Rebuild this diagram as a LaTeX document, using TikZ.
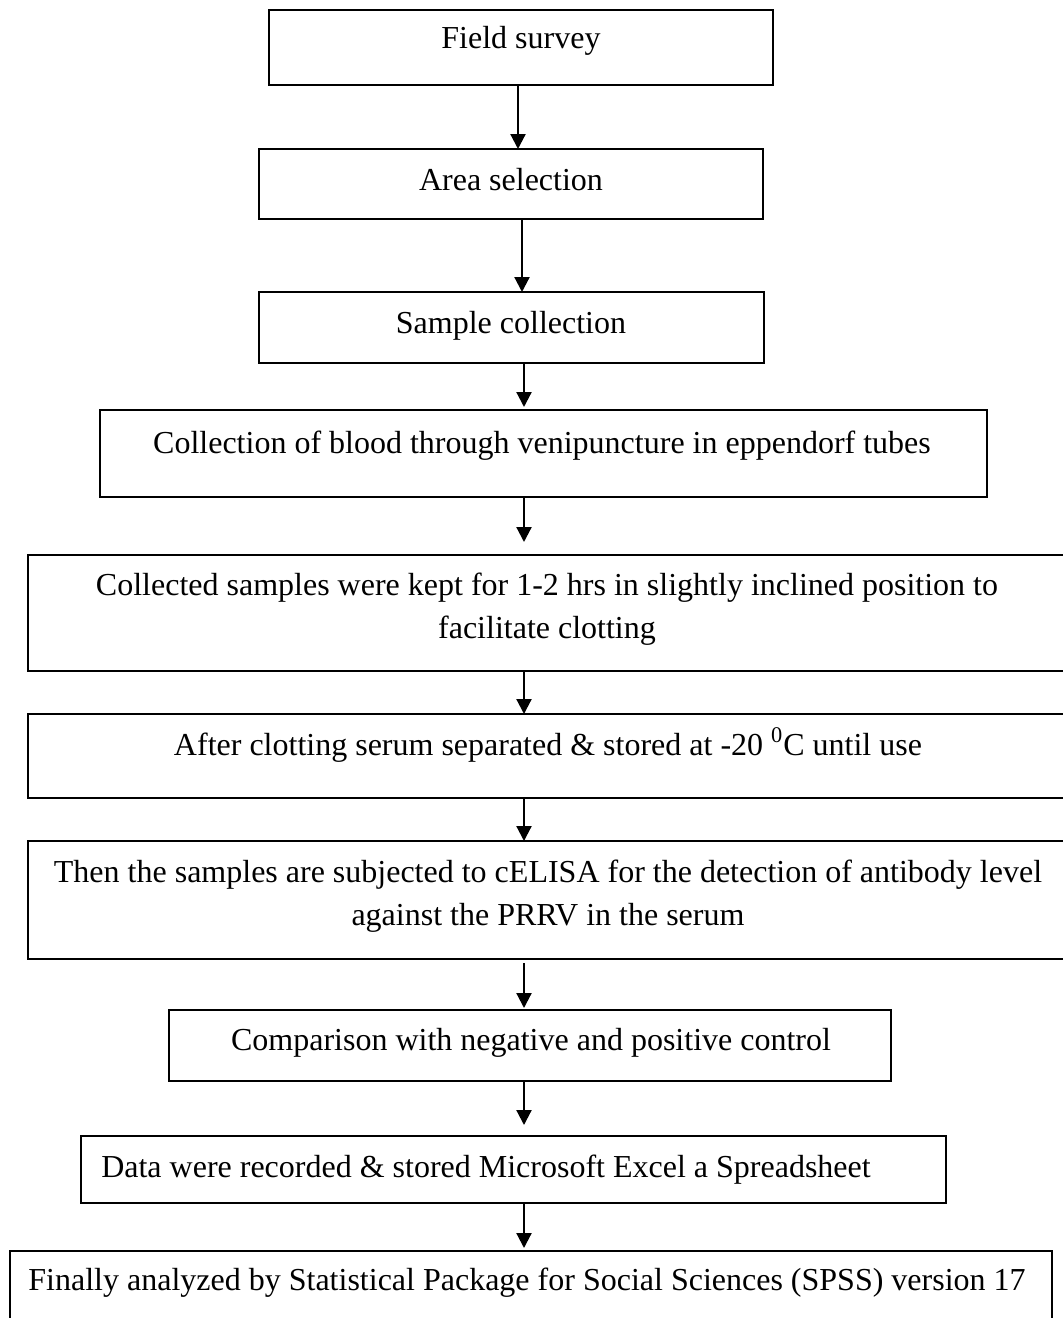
\documentclass[tikz,border=0pt]{standalone}
\usepackage{fontspec}
\setmainfont{Liberation Serif}
\usetikzlibrary{arrows.meta}
\begin{document}
\begin{tikzpicture}[x=0.5pt,y=-0.5pt,
  box/.style={draw, line width=1.4pt, anchor=north west, inner sep=0pt, outer sep=0pt},
  txt/.style={font=\fontsize{16}{21.5}\selectfont, inner sep=0pt, align=center},
  arr/.style={line width=1.1pt, -{Triangle[length=7.5pt,width=7.5pt]}}]
\useasboundingbox (0,0) rectangle (1063,1318);
% boxes
\node[box, minimum width=252pt,   minimum height=37.5pt] (b1)  at (269,10)   {};
\node[box, minimum width=252pt,   minimum height=35pt]   (b2)  at (259,149)  {};
\node[box, minimum width=252.5pt, minimum height=35.5pt] (b3)  at (259,292)  {};
\node[box, minimum width=443.5pt, minimum height=43.5pt] (b4)  at (100,410)  {};
\node[box, minimum width=520pt,   minimum height=58pt]   (b5)  at (28,555)   {};
\node[box, minimum width=520pt,   minimum height=42pt]   (b6)  at (28,714)   {};
\node[box, minimum width=520pt,   minimum height=59pt]   (b7)  at (28,841)   {};
\node[box, minimum width=361pt,   minimum height=35.5pt] (b8)  at (169,1010) {};
\node[box, minimum width=432.5pt, minimum height=33.5pt] (b9)  at (81,1136)  {};
\node[box, minimum width=521pt,   minimum height=39.5pt] (b10) at (10,1251)  {};
% texts
\node[txt, anchor=base] (t1) at (521,48)  {Field survey};
\node[txt, anchor=base] (t2) at (511,190) {Area selection};
\node[txt, anchor=base] (t3) at (511,333) {Sample collection};
\node[txt, anchor=base] (t4) at (542,453) {Collection of blood through venipuncture in eppendorf tubes};
\node[txt] (t5) at (547,609) {Collected samples were kept for 1-2 hrs in slightly inclined position to\\facilitate clotting};
\node[txt, anchor=base] (t6) at (548,755) {After clotting serum separated \& stored at -20 \textsuperscript{0}C until use};
\node[txt] (t7) at (548,896) {Then the samples are subjected to cELISA for the detection of antibody level\\against the PRRV in the serum};
\node[txt, anchor=base] (t8) at (531,1050) {Comparison with negative and positive control};
\node[txt, anchor=base] (t9) at (486,1177) {Data were recorded \& stored Microsoft Excel a Spreadsheet};
\node[txt, anchor=base] (t10) at (527,1290) {Finally analyzed by Statistical Package for Social Sciences (SPSS) version 17};
% arrow columns
\coordinate (c1) at (518,0);
\coordinate (c2) at (522,0);
\coordinate (c3) at (524,0);
% arrows
\draw[arr] (b1.south -| c1) -- (b2.north -| c1);
\draw[arr] (b2.south -| c2) -- (b3.north -| c2);
\draw[arr, shorten >=1.5pt] (b3.south -| c3) -- (b4.north -| c3);
\draw[arr, shorten >=6.5pt] (b4.south -| c3) -- (b5.north -| c3);
\draw[arr] (b5.south -| c3) -- (b6.north -| c3);
\draw[arr] (b6.south -| c3) -- (b7.north -| c3);
\draw[arr, shorten <=2pt, shorten >=1pt] (b7.south -| c3) -- (b8.north -| c3);
\draw[arr, shorten >=5.5pt] (b8.south -| c3) -- (b9.north -| c3);
\draw[arr, shorten >=1.5pt] (b9.south -| c3) -- (b10.north -| c3);
\end{tikzpicture}
\end{document}
